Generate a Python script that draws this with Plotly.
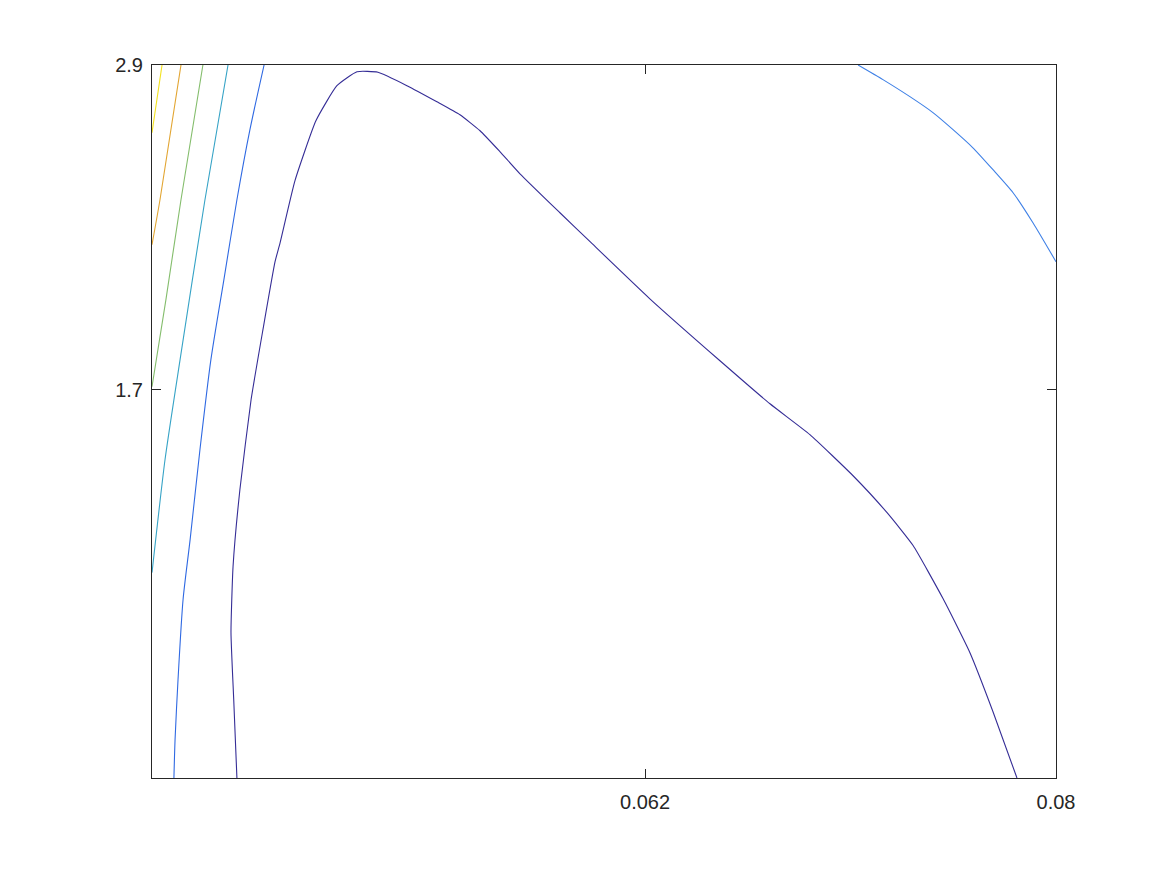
import plotly.graph_objects as go

# contour levels (x, y in data units)
navy_x = [0.04412, 0.04398, 0.04386, 0.04395, 0.04425, 0.04474, 0.04526, 0.04579,
          0.04601, 0.04666, 0.04758, 0.04850, 0.04938, 0.05030, 0.05157, 0.05288,
          0.05389, 0.05477, 0.05564, 0.05652, 0.05827, 0.05959, 0.06221, 0.06528,
          0.06747, 0.06922, 0.07111, 0.07260, 0.07374, 0.07505, 0.07623, 0.07724,
          0.07829]
navy_y = [0.265, 0.5545, 0.802, 1.046, 1.3305, 1.663, 1.922, 2.173,
          2.243, 2.472, 2.694, 2.8235, 2.875, 2.873, 2.8235, 2.764,
          2.716, 2.657, 2.580, 2.498, 2.354, 2.247, 2.036, 1.807,
          1.648, 1.534, 1.382, 1.2455, 1.124, 0.928, 0.728, 0.510,
          0.265]

blue_x = [0.04531, 0.04469, 0.04412, 0.04355, 0.04298, 0.04250, 0.04207,
          0.04176, 0.04154, 0.04141, 0.04136]
blue_y = [2.9, 2.661, 2.402, 2.107, 1.811, 1.478, 1.146, 0.924, 0.628, 0.407, 0.265]

arc_x = [0.07133, 0.07242, 0.07360, 0.07461, 0.07549, 0.07636, 0.07724,
         0.07812, 0.07899, 0.0800]
arc_y = [2.9, 2.846, 2.783, 2.724, 2.661, 2.594, 2.513, 2.428, 2.317, 2.173]

teal_x = [0.04373, 0.04272, 0.04163, 0.04097, 0.0404]
teal_y = [2.9, 2.402, 1.811, 1.441, 1.024]

green_x = [0.04263, 0.04167, 0.04101, 0.0404]
green_y = [2.9, 2.402, 2.033, 1.711]

orange_x = [0.04167, 0.04075, 0.0404]
orange_y = [2.9, 2.402, 2.236]

yellow_x = [0.04084, 0.0404]
yellow_y = [2.9, 2.650]

x_ticks = [0.062, 0.08]
y_ticks = [1.7, 2.9]

AXIS = "#262626"

levels = [
    (navy_x, navy_y, "#352d96", 0.45),
    (blue_x, blue_y, "#2f69e2", 0.7),
    (arc_x, arc_y, "#3f80e6", 0.6),
    (teal_x, teal_y, "#36a3c6", 0.6),
    (green_x, green_y, "#84bd6c", 0.6),
    (orange_x, orange_y, "#e2a532", 0.6),
    (yellow_x, yellow_y, "#f2e21e", 0.6),
]

fig = go.Figure()
for xs, ys, col, smooth in levels:
    fig.add_trace(go.Scatter(
        x=xs, y=ys, mode="lines",
        line=dict(color=col, width=1.1, shape="spline", smoothing=smooth),
        showlegend=False, hoverinfo="skip",
    ))

axis_style = dict(
    showline=True, linecolor=AXIS, linewidth=1, mirror="allticks",
    ticks="inside", ticklen=9, tickwidth=1, tickcolor=AXIS,
    showgrid=False, zeroline=False,
    tickfont=dict(family="Liberation Sans, Arial, sans-serif", size=20, color=AXIS),
)

fig.update_layout(
    width=1166, height=875,
    margin=dict(l=144, r=118, t=57, b=105),
    plot_bgcolor="white", paper_bgcolor="white",
    xaxis=dict(range=[0.0404, 0.08], tickvals=x_ticks, ticktext=["0.062", "0.08"],
               ticklabelstandoff=6, **axis_style),
    yaxis=dict(range=[0.265, 2.9], tickvals=y_ticks, ticktext=["1.7", "2.9"],
               ticklabelstandoff=4, **axis_style),
)

fig.write_html("out.html")
